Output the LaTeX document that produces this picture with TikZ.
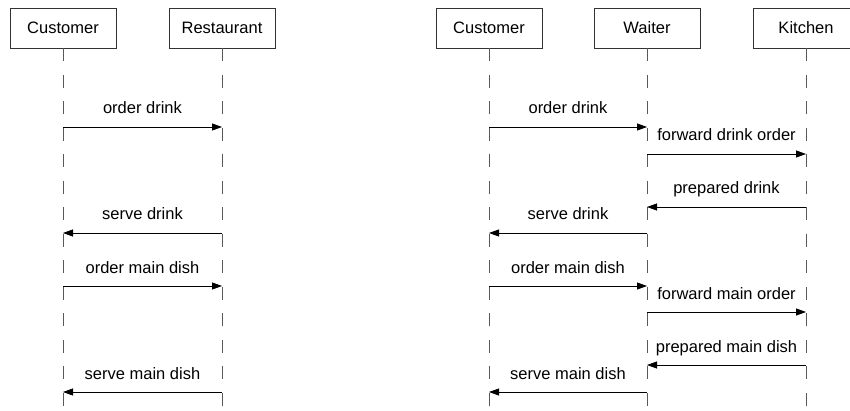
\documentclass[tikz,border=0pt]{standalone}
\usepackage{fontspec}
\setmainfont{Liberation Sans}
\usetikzlibrary{arrows.meta}
\tikzset{
  actor/.style={draw=black!80, line width=0.8pt, minimum width=106pt, minimum height=40pt, inner sep=0pt, fill=white},
  life/.style={draw=black!65, line width=0.8pt, dash pattern=on 13pt off 13.5pt},
  msg/.style={draw=black, line width=0.8pt, -{Triangle[length=10pt,width=7pt]}},
  lbl/.style={anchor=base, yshift=13pt, inner sep=1pt}
}
\begin{document}
\begin{tikzpicture}[x=1pt,y=-1pt,font=\fontsize{16.5}{20}\selectfont]
\useasboundingbox[fill=white] (0,0) rectangle (850,411);
% left diagram
\node[actor] (lc) at (63,28) {Customer};
\node[actor] (lr) at (222,28) {Restaurant};
% right diagram
\node[actor] (rc) at (489,28) {Customer};
\node[actor] (rw) at (647,28) {Waiter};
\node[actor] (rk) at (806,28) {Kitchen};
% lifeline ends
\coordinate (lcE) at (63,411);
\coordinate (lrE) at (222,411);
\coordinate (rcE) at (489,411);
\coordinate (rwE) at (647,411);
\coordinate (rkE) at (806,411);
\draw[life] (lc.south) -- (lcE);
\draw[life] (lr.south) -- (lrE);
\draw[life] (rc.south) -- (rcE);
\draw[life] (rw.south) -- (rwE);
\draw[life] (rk.south) -- (rkE);
% left messages
\draw[msg] (lc |- 0,127) -- node[lbl] {order drink} (lr |- 0,127);
\draw[msg] (lr |- 0,233) -- node[lbl] {serve drink} (lc |- 0,233);
\draw[msg] (lc |- 0,286) -- node[lbl] {order main dish} (lr |- 0,286);
\draw[msg] (lr |- 0,392) -- node[lbl] {serve main dish} (lc |- 0,392);
% right messages
\draw[msg] (rc |- 0,127) -- node[lbl] {order drink} (rw |- 0,127);
\draw[msg] (rw |- 0,154) -- node[lbl] {forward drink order} (rk |- 0,154);
\draw[msg] (rk |- 0,207) -- node[lbl] {prepared drink} (rw |- 0,207);
\draw[msg] (rw |- 0,233) -- node[lbl] {serve drink} (rc |- 0,233);
\draw[msg] (rc |- 0,286) -- node[lbl] {order main dish} (rw |- 0,286);
\draw[msg] (rw |- 0,312) -- node[lbl] {forward main order} (rk |- 0,312);
\draw[msg] (rk |- 0,365) -- node[lbl] {prepared main dish} (rw |- 0,365);
\draw[msg] (rw |- 0,392) -- node[lbl] {serve main dish} (rc |- 0,392);
\end{tikzpicture}
\end{document}
